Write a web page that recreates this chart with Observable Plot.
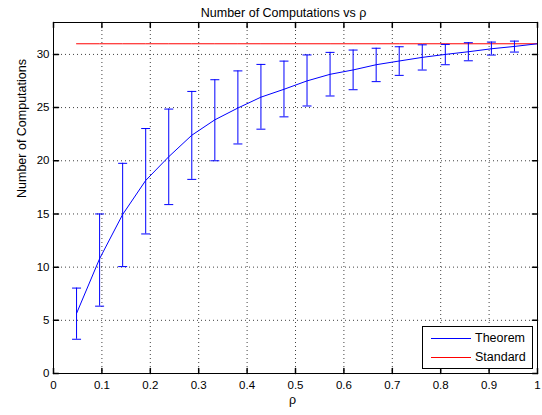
<!DOCTYPE html>
<html>
<head>
<meta charset="utf-8">
<script src="https://cdn.jsdelivr.net/npm/d3@7"></script>
<script src="https://cdn.jsdelivr.net/npm/@observablehq/plot@0.6"></script>
<style>
  html, body { margin: 0; padding: 0; background: #fff; }
  #wrap { position: relative; width: 542px; height: 415px; font-family: "Liberation Sans", Arial, Helvetica, sans-serif; }
  #legend { position: absolute; left: 422px; top: 326px; width: 109px; height: 41px; border: 1px solid #000; background: #fff; font-size: 12.5px; }
  .row { position: absolute; left: 0; height: 16px; display: flex; align-items: center; }
  .sw { width: 40px; height: 0; border-top: 1px solid; margin-left: 8px; margin-right: 4px; }
</style>
</head>
<body>
<div id="wrap"></div>
<script>
// ---- data ----
const rho = [1/21, 2/21, 3/21, 4/21, 5/21, 6/21, 7/21, 8/21, 9/21, 10/21, 11/21,
             12/21, 13/21, 14/21, 15/21, 16/21, 17/21, 18/21, 19/21, 20/21, 21/21];
const theorem = [5.65, 10.79, 14.95, 18.15, 20.38, 22.40, 23.85, 24.96, 25.98, 26.72, 27.51,
                 28.13, 28.54, 29.03, 29.38, 29.72, 30.00, 30.25, 30.53, 30.75, 31.0];
const errLow  = [3.22, 6.33, 10.05, 13.12, 15.88, 18.25, 20.00, 21.58, 22.97, 24.13, 25.15,
                 26.09, 26.68, 27.44, 28.03, 28.53, 29.03, 29.40, 29.94, 30.22];
const errHigh = [8.03, 15.0, 19.76, 23.03, 24.86, 26.52, 27.62, 28.45, 29.06, 29.37, 29.95,
                 30.19, 30.41, 30.58, 30.72, 30.90, 30.94, 31.10, 31.16, 31.25];
const standard = 31;
const xTicks = [0, 0.1, 0.2, 0.3, 0.4, 0.5, 0.6, 0.7, 0.8, 0.9, 1];
const yTicks = [0, 5, 10, 15, 20, 25, 30];
const seriesNames = ["Theorem", "Standard"];
const titleText = "Number of Computations vs ρ";
const xLabel = "ρ";
const yLabel = "Number of Computations";

const points = rho.map((x, i) => ({x, y: theorem[i]}));
const bars = errLow.map((lo, i) => ({x: rho[i], lo, hi: errHigh[i]}));

const BLUE = "#0000ff", RED = "#ff0000";

const capSymbol = { draw(ctx, size) { ctx.moveTo(-4.5, 0); ctx.lineTo(4.5, 0); } };
const tickShape = { draw(ctx, l) { ctx.moveTo(0, 0); ctx.lineTo(0, -l); } };

const gridStyle = {stroke: "#000", strokeOpacity: 0.75, strokeDasharray: "1,3"};

const chart = Plot.plot({
  width: 542,
  height: 415,
  marginLeft: 53,
  marginRight: 5,
  marginTop: 22,
  marginBottom: 42,
  style: {fontFamily: "'Liberation Sans', Arial, Helvetica, sans-serif", fontSize: "11.5px", background: "#fff", color: "#000"},
  x: {domain: [0, 1]},
  y: {domain: [0, 33]},
  marks: [
    Plot.gridX(xTicks, gridStyle),
    Plot.gridY(yTicks, gridStyle),
    Plot.line(points, {x: "x", y: () => standard, stroke: RED, strokeWidth: 1}),
    Plot.ruleX(bars, {x: "x", y1: "lo", y2: "hi", stroke: BLUE, strokeWidth: 1}),
    Plot.dot(bars, {x: "x", y: "hi", symbol: capSymbol, stroke: BLUE, fill: "none", strokeWidth: 1}),
    Plot.dot(bars, {x: "x", y: "lo", symbol: capSymbol, stroke: BLUE, fill: "none", strokeWidth: 1}),
    Plot.line(points, {x: "x", y: "y", stroke: BLUE, strokeWidth: 1}),
    Plot.frame({stroke: "#000"}),
    Plot.vector(xTicks, {x: d => d, frameAnchor: "bottom", length: 5, rotate: 0, anchor: "start", shape: tickShape, stroke: "#000"}),
    Plot.vector(xTicks, {x: d => d, frameAnchor: "top", length: 5, rotate: 180, anchor: "start", shape: tickShape, stroke: "#000"}),
    Plot.vector(yTicks, {y: d => d, frameAnchor: "left", length: 5, rotate: 90, anchor: "start", shape: tickShape, stroke: "#000"}),
    Plot.vector(yTicks, {y: d => d, frameAnchor: "right", length: 5, rotate: -90, anchor: "start", shape: tickShape, stroke: "#000"}),
    Plot.axisX({ticks: xTicks, tickSize: 0, tickPadding: 7, label: null, tickFormat: d => String(d)}),
    Plot.axisY({ticks: yTicks, tickSize: 0, tickPadding: 4, label: null, tickFormat: d => String(d)}),
    Plot.text([titleText], {text: d => d, frameAnchor: "top", dy: -14, dx: -12, fontSize: 12.5}),
    Plot.text([xLabel], {text: d => d, frameAnchor: "bottom", dy: 30, dx: -3, fontSize: 12.5}),
    Plot.text([yLabel], {text: d => d, frameAnchor: "left", dx: -32, rotate: -90, fontSize: 12.5})
  ]
});

const wrap = document.getElementById("wrap");
wrap.appendChild(chart);

// legend
const legend = document.createElement("div");
legend.id = "legend";
const colors = [BLUE, RED];
seriesNames.forEach((name, i) => {
  const row = document.createElement("div");
  row.className = "row";
  row.style.top = (3 + i * 19) + "px";
  const sw = document.createElement("div");
  sw.className = "sw";
  sw.style.borderTopColor = colors[i];
  const t = document.createElement("span");
  t.textContent = name;
  row.appendChild(sw);
  row.appendChild(t);
  legend.appendChild(row);
});
wrap.appendChild(legend);
</script>
</body>
</html>
